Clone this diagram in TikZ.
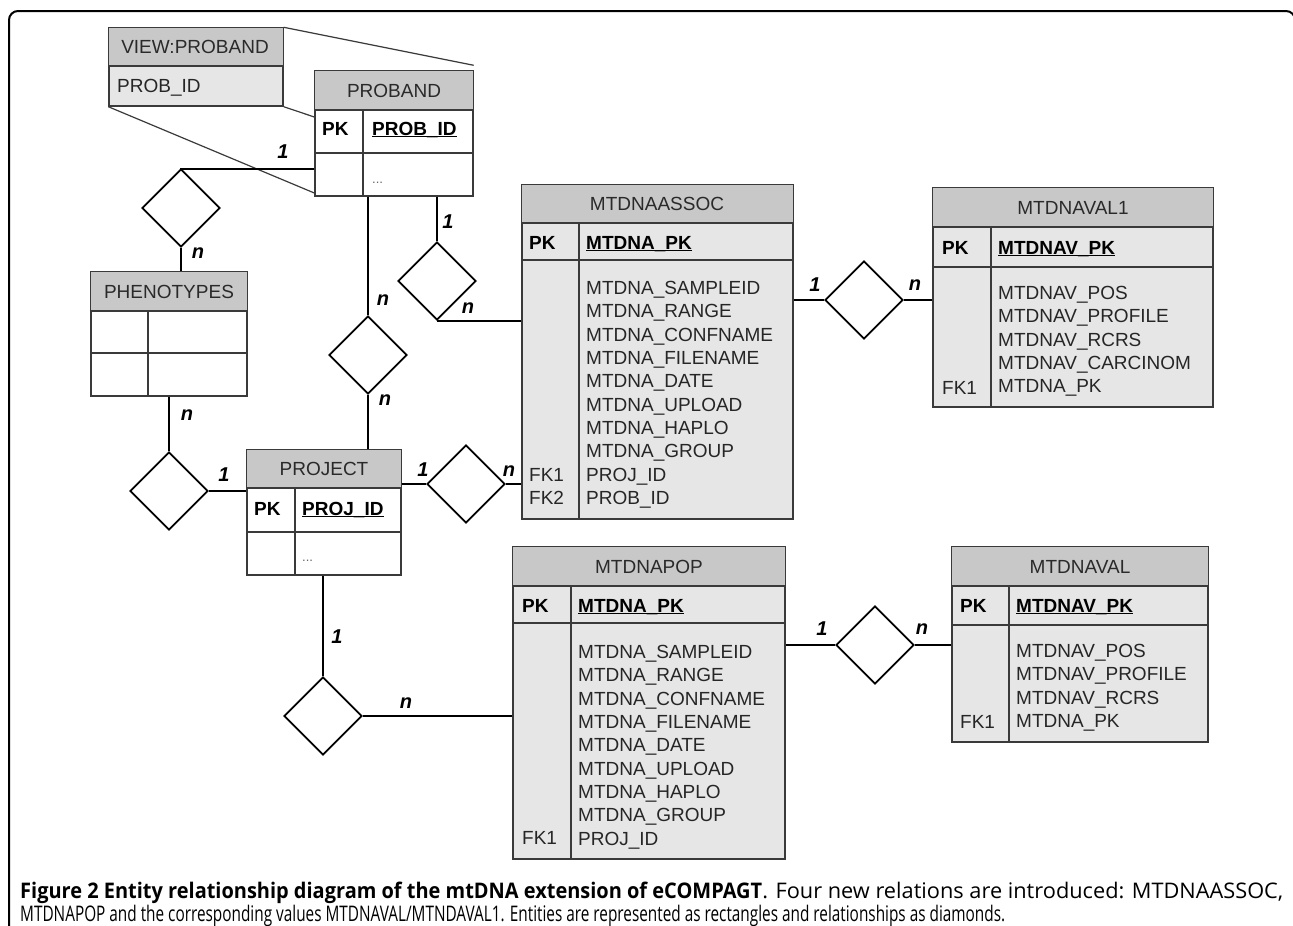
\documentclass[tikz,border=0pt]{standalone}
\usepackage{fontspec}
\setmainfont{Liberation Sans}
\newfontfamily\capfont{Open Sans}
\usepackage{graphicx}
\usetikzlibrary{calc,shapes.geometric}
\definecolor{headgray}{HTML}{C8C8C8}
\definecolor{bodygray}{HTML}{E6E6E6}
\definecolor{boxline}{HTML}{3A3A3A}
\definecolor{txtgray}{HTML}{262626}
\definecolor{titlegray}{HTML}{2A2A2A}

\begin{document}
\begin{tikzpicture}[x=1pt,y=-1pt,
	entity/.style={draw=boxline,line width=1.4pt,fill=white,inner sep=0pt},
	head/.style={draw=boxline,line width=1.4pt,fill=headgray},
	rule/.style={draw=boxline,line width=1.4pt},
	rel/.style={diamond,draw=black,line width=1.8pt,fill=white,minimum width=78pt,minimum height=78pt,inner sep=0pt},
	link/.style={line width=1.8pt},
	zoomline/.style={line width=1.2pt,draw=boxline},
	title/.style={anchor=base,font=\fontsize{19}{23.3}\selectfont,text=titlegray,inner sep=0pt},
	field/.style={anchor=north west,align=left,font=\fontsize{19}{23.3}\selectfont,text=txtgray,inner sep=0pt},
	keyfield/.style={anchor=base west,font=\fontsize{19}{23.3}\selectfont\bfseries,text=black,inner sep=0pt},
	card/.style={font=\fontsize{20}{20}\selectfont\bfseries\itshape,inner sep=0pt},
	dots/.style={anchor=base west,font=\fontsize{13}{13}\selectfont,text=black!60,inner sep=0pt},
	caption/.style={anchor=base west,inner sep=0pt,font=\capfont\fontsize{21.5}{23}\selectfont}]
			%%%%% START %%%%%
			
			\path[use as bounding box] (0,0) rectangle (1293,926);
			\clip (0,0) rectangle (1293,926);
			\draw[line width=2pt,rounded corners=9pt] (9,926) -- (9,11) -- (1295,11) -- (1295,926);
			
			% view and proband
			\node[entity,fill=bodygray,minimum width=174pt,minimum height=78pt] (view) at (196,67) {};
			\draw[head] (view.north west) rectangle (view.east |- 0,66);
			\node[title] (view-title) at (195,53) {VIEW:PROBAND};
			\node[field,anchor=base west] (view-field) at (117,92) {PROB\_ID};
			
			\node[entity,minimum width=158pt,minimum height=125pt] (proband) at (394,133.5) {};
			\draw[head] (proband.north west) rectangle (proband.east |- 0,110);
			\draw[rule] (proband.west |- 0,153) -- (proband.east |- 0,153);
			\draw[rule] (363,110) -- (363,196);
			\node[title] (proband-title) at (394,97) {PROBAND};
			\node[keyfield] (proband-pk) at (322,135) {PK};
			\node[keyfield] (proband-key) at (372,135) {\underline{\smash{PROB\_ID}}};
			\node[dots] (proband-dots) at (372,183) {...};
			
			\draw[zoomline] (view.north east) -- ([yshift=5pt]proband.north east);
			\draw[zoomline] (view.south east) -- (proband.west |- 0,117);
			\draw[zoomline] (view.south west) -- (proband.west |- 0,193);
			
			% phenotypes
			\node[entity,minimum width=156pt,minimum height=124pt] (pheno) at (169,334) {};
			\draw[head] (pheno.north west) rectangle (pheno.east |- 0,311);
			\draw[rule] (pheno.west |- 0,353) -- (pheno.east |- 0,353);
			\draw[rule] (148,311) -- (148,396);
			\node[title] (pheno-title) at (169,298) {PHENOTYPES};
			
			% project
			\node[entity,minimum width=154pt,minimum height=125pt] (project) at (324,512.5) {};
			\draw[head] (project.north west) rectangle (project.east |- 0,488);
			\draw[rule] (project.west |- 0,532) -- (project.east |- 0,532);
			\draw[rule] (295,488) -- (295,575);
			\node[title] (project-title) at (324,475) {PROJECT};
			\node[keyfield] (project-pk) at (254,515) {PK};
			\node[keyfield] (project-key) at (302,515) {\underline{\smash{PROJ\_ID}}};
			\node[dots] (project-dots) at (302,561) {...};
			
			% mtdnaassoc
			\node[entity,fill=bodygray,minimum width=271pt,minimum height=334pt] (assoc) at (657.5,352) {};
			\draw[head] (assoc.north west) rectangle (assoc.east |- 0,223);
			\draw[rule] (assoc.west |- 0,260) -- (assoc.east |- 0,260);
			\draw[rule] (579,223) -- (579,519);
			\node[title] (assoc-title) at (657,210) {MTDNAASSOC};
			\node[keyfield] (assoc-pk) at (529,249) {PK};
			\node[keyfield] (assoc-key) at (586,249) {\underline{\smash{MTDNA\_PK}}};
			\node[field] (assoc-fields) at (586,281.2) {MTDNA\_SAMPLEID\\MTDNA\_RANGE\\MTDNA\_CONFNAME\\MTDNA\_FILENAME\\MTDNA\_DATE\\MTDNA\_UPLOAD\\MTDNA\_HAPLO\\MTDNA\_GROUP\\PROJ\_ID\\PROB\_ID};
			\node[field] (assoc-fk) at (529,468.2) {FK1\\FK2};
			
			% mtdnaval1
			\node[entity,fill=bodygray,minimum width=280pt,minimum height=219pt] (val1) at (1073,297.5) {};
			\draw[head] (val1.north west) rectangle (val1.east |- 0,227);
			\draw[rule] (val1.west |- 0,267) -- (val1.east |- 0,267);
			\draw[rule] (991,227) -- (991,407);
			\node[title] (val1-title) at (1073,214) {MTDNAVAL1};
			\node[keyfield] (val1-pk) at (942,254) {PK};
			\node[keyfield] (val1-key) at (998,254) {\underline{\smash{MTDNAV\_PK}}};
			\node[field] (val1-fields) at (998,286.2) {MTDNAV\_POS\\MTDNAV\_PROFILE\\MTDNAV\_RCRS\\MTDNAV\_CARCINOM\\MTDNA\_PK};
			\node[field,anchor=base west] (val1-fk) at (942,394) {FK1};
			
			% mtdnapop
			\node[entity,fill=bodygray,minimum width=272pt,minimum height=312pt] (pop) at (649,703) {};
			\draw[head] (pop.north west) rectangle (pop.east |- 0,586);
			\draw[rule] (pop.west |- 0,623) -- (pop.east |- 0,623);
			\draw[rule] (571,586) -- (571,859);
			\node[title] (pop-title) at (649,573) {MTDNAPOP};
			\node[keyfield] (pop-pk) at (522,612) {PK};
			\node[keyfield] (pop-key) at (578,612) {\underline{\smash{MTDNA\_PK}}};
			\node[field] (pop-fields) at (578,645.2) {MTDNA\_SAMPLEID\\MTDNA\_RANGE\\MTDNA\_CONFNAME\\MTDNA\_FILENAME\\MTDNA\_DATE\\MTDNA\_UPLOAD\\MTDNA\_HAPLO\\MTDNA\_GROUP\\PROJ\_ID};
			\node[field,anchor=base west] (pop-fk) at (522,844) {FK1};
			
			% mtdnaval
			\node[entity,fill=bodygray,minimum width=256pt,minimum height=195pt] (val) at (1080,644.5) {};
			\draw[head] (val.north west) rectangle (val.east |- 0,586);
			\draw[rule] (val.west |- 0,625) -- (val.east |- 0,625);
			\draw[rule] (1009,586) -- (1009,742);
			\node[title] (val-title) at (1080,573) {MTDNAVAL};
			\node[keyfield] (val-pk) at (960,612) {PK};
			\node[keyfield] (val-key) at (1016,612) {\underline{\smash{MTDNAV\_PK}}};
			\node[field] (val-fields) at (1016,644.2) {MTDNAV\_POS\\MTDNAV\_PROFILE\\MTDNAV\_RCRS\\MTDNA\_PK};
			\node[field,anchor=base west] (val-fk) at (960,728) {FK1};
			
			% relationships
			\node[rel] (d1) at (181,208) {};
			\node[rel] (d2) at (169,491) {};
			\node[rel] (d3) at (368,355) {};
			\node[rel] (d4) at (437,281) {};
			\node[rel] (d5) at (466,484) {};
			\node[rel] (d6) at (864,300) {};
			\node[rel] (d7) at (323,716) {};
			\node[rel] (d8) at (875,645) {};
			
			\draw[link] (proband.west |- 0,169) -| (d1.north);
			\draw[link] (d1.south) -- (d1.south |- pheno.north);
			\draw[link] (pheno.south) -- (d2.north);
			\draw[link] (d2.east) -- (project.west |- d2.east);
			\draw[link] (proband.south -| d3.north) -- (d3.north);
			\draw[link] (d3.south) -- (d3.south |- project.north);
			\draw[link] (proband.south -| d4.north) -- (d4.north);
			\draw[link] (d4.south) -- (d4.south -| assoc.west);
			\draw[link] (project.east |- d5.west) -- (d5.west);
			\draw[link] (d5.east) -- (d5.east -| assoc.west);
			\draw[link] (assoc.east |- d6.west) -- (d6.west);
			\draw[link] (d6.east) -- (d6.east -| val1.west);
			\draw[link] (project.south -| d7.north) -- (d7.north);
			\draw[link] (d7.east) -- (d7.east -| pop.west);
			\draw[link] (pop.east |- d8.west) -- (d8.west);
			\draw[link] (d8.east) -- (d8.east -| val.west);
			
			% cardinalities
			\node[card] (c1) at (283,152) {1};
			\node[card] (c2) at (198,253) {n};
			\node[card] (c3) at (187,415) {n};
			\node[card] (c4) at (224,475) {1};
			\node[card] (c5) at (383,300) {n};
			\node[card] (c6) at (385,400) {n};
			\node[card] (c7) at (448,222) {1};
			\node[card] (c8) at (468,308) {n};
			\node[card] (c9) at (423,470) {1};
			\node[card] (c10) at (509,471) {n};
			\node[card] (c11) at (815,285) {1};
			\node[card] (c12) at (915,285) {n};
			\node[card] (c13) at (337,637) {1};
			\node[card] (c14) at (406,703) {n};
			\node[card] (c15) at (822,629) {1};
			\node[card] (c16) at (922,629) {n};
			
			% caption
			\node[caption] (cap1) at (20,898) {\resizebox{742pt}{\height}{\textbf{Figure 2 Entity relationship diagram of the mtDNA extension of eCOMPAGT}}\resizebox{521pt}{\height}{. Four new relations are introduced: MTDNAASSOC,}};
			\node[caption] (cap2) at (20,921) {\resizebox{985pt}{\height}{MTDNAPOP and the corresponding values MTDNAVAL/MTNDAVAL1. Entities are represented as rectangles and relationships as diamonds.}};
			
			%%%%% END %%%%%
		\end{tikzpicture}
\end{document}
